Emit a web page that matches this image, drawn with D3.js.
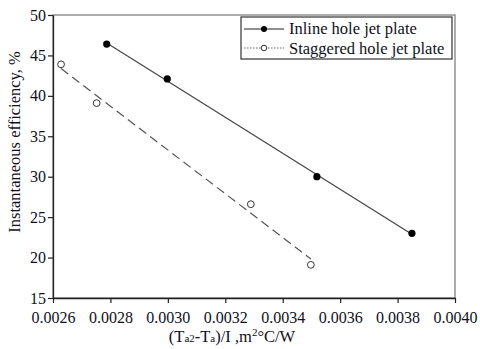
<!DOCTYPE html>
<html lang="en">
<head>
<meta charset="UTF-8">
<script src="https://d3js.org/d3.v7.min.js"></script>
<style>
  body { margin: 0; background: #fff; }
  svg text { font-family: "Liberation Serif", "Times New Roman", Times, "DejaVu Serif", serif !important; fill: #10101c; }
</style>
</head>
<body>
<div id="chart"></div>
<script>
  // data
  const inlineX = [0.002787, 0.002998, 0.003519, 0.00385];
  const inlineY = [46.4, 42.1, 30.0, 23.0];
  const staggX = [0.002628, 0.002752, 0.003289, 0.003498];
  const staggY = [43.9, 39.1, 26.6, 19.1];
  const xTicks = [0.0026, 0.0028, 0.0030, 0.0032, 0.0034, 0.0036, 0.0038, 0.0040];
  const yTicks = [15, 20, 25, 30, 35, 40, 45, 50];
  const seriesNames = ["Inline hole jet plate", "Staggered hole jet plate"];

  const width = 480, height = 349;
  const m = { left: 53, right: 25, top: 15, bottom: 51 };

  const svg = d3.select("#chart").append("svg")
      .attr("width", width).attr("height", height);

  const x = d3.scaleLinear().domain([0.0026, 0.0040]).range([m.left, width - m.right]);
  const y = d3.scaleLinear().domain([15, 50]).range([height - m.bottom, m.top]);

  // frame top/right
  svg.append("rect")
      .attr("x", x(0.0026)).attr("y", y(50))
      .attr("width", x(0.0040) - x(0.0026)).attr("height", y(15) - y(50))
      .attr("fill", "none").attr("stroke", "#777").attr("stroke-width", 1.2);

  const xAxis = svg.append("g")
      .attr("transform", `translate(0,${y(15)})`)
      .call(d3.axisBottom(x).tickValues(xTicks).tickFormat(d3.format(".4f")).tickSizeInner(5).tickSizeOuter(0));
  const yAxis = svg.append("g")
      .attr("transform", `translate(${x(0.0026)},0)`)
      .call(d3.axisLeft(y).tickValues(yTicks).tickSizeInner(5).tickSizeOuter(0));

  [xAxis, yAxis].forEach(g => {
    g.attr("font-family", null);
    g.select(".domain").attr("stroke", "#222").attr("stroke-width", 1.3);
    g.selectAll(".tick line").attr("stroke", "#222").attr("stroke-width", 1.2);
    g.selectAll(".tick text").style("font-size", "16px").attr("fill", "#10101c");
  });
  xAxis.selectAll(".tick text").attr("dy", "1.05em");
  yAxis.selectAll(".tick text").attr("x", -7);

  // least squares trend line
  function fit(xs, ys) {
    const mx = d3.mean(xs), my = d3.mean(ys);
    const b = d3.sum(xs, (v, i) => (v - mx) * (ys[i] - my)) / d3.sum(xs, v => (v - mx) * (v - mx));
    const a = my - b * mx;
    const x0 = d3.min(xs), x1 = d3.max(xs);
    return [[x0, a + b * x0], [x1, a + b * x1]];
  }
  const line = d3.line().x(d => x(d[0])).y(d => y(d[1]));

  svg.append("path").attr("d", line(fit(inlineX, inlineY)))
      .attr("fill", "none").attr("stroke", "#444").attr("stroke-width", 1.2);
  svg.append("path").attr("d", line(fit(staggX, staggY)))
      .attr("fill", "none").attr("stroke", "#555").attr("stroke-width", 1.2)
      .attr("stroke-dasharray", "9,5");

  svg.append("g").selectAll("circle").data(inlineX).join("circle")
      .attr("cx", d => x(d)).attr("cy", (d, i) => y(inlineY[i]))
      .attr("r", 3.6).attr("fill", "#000");
  svg.append("g").selectAll("circle").data(staggX).join("circle")
      .attr("cx", d => x(d)).attr("cy", (d, i) => y(staggY[i]))
      .attr("r", 3.4).attr("fill", "#fff").attr("stroke", "#333").attr("stroke-width", 1);

  // legend
  const lg = svg.append("g").attr("transform", "translate(241,17)");
  lg.append("rect").attr("width", 211).attr("height", 42)
      .attr("fill", "#fff").attr("stroke", "#333").attr("stroke-width", 1.2);
  lg.append("line").attr("x1", 3).attr("x2", 43).attr("y1", 12).attr("y2", 12)
      .attr("stroke", "#222").attr("stroke-width", 1.2);
  lg.append("circle").attr("cx", 23).attr("cy", 12).attr("r", 3).attr("fill", "#000");
  lg.append("line").attr("x1", 3).attr("x2", 43).attr("y1", 31).attr("y2", 31)
      .attr("stroke", "#666").attr("stroke-width", 1).attr("stroke-dasharray", "1.5,1.5");
  lg.append("circle").attr("cx", 23).attr("cy", 31).attr("r", 2.8)
      .attr("fill", "#fff").attr("stroke", "#333").attr("stroke-width", 1);
  lg.selectAll("text.lab").data(seriesNames).join("text")
      .attr("class", "lab")
      .attr("x", 48).attr("y", (d, i) => 17 + i * 19.5)
      .style("font-size", "16.5px").text(d => d);

  // axis titles
  svg.append("text")
      .attr("transform", "translate(20,142) rotate(-90)")
      .attr("text-anchor", "middle").style("font-size", "16.5px")
      .text("Instantaneous efficiency, %");

  const xt = svg.append("text").attr("x", 232).attr("y", 342)
      .attr("text-anchor", "middle").style("font-size", "16.5px");
  xt.append("tspan").text("(T");
  xt.append("tspan").text("a2").style("font-size", "11px");
  xt.append("tspan").text("-T");
  xt.append("tspan").text("a").style("font-size", "11px");
  xt.append("tspan").text(")/I ,m");
  xt.append("tspan").text("2").style("font-size", "11px").attr("dy", -6);
  xt.append("tspan").text("°C/W").attr("dy", 6);
</script>
</body>
</html>
